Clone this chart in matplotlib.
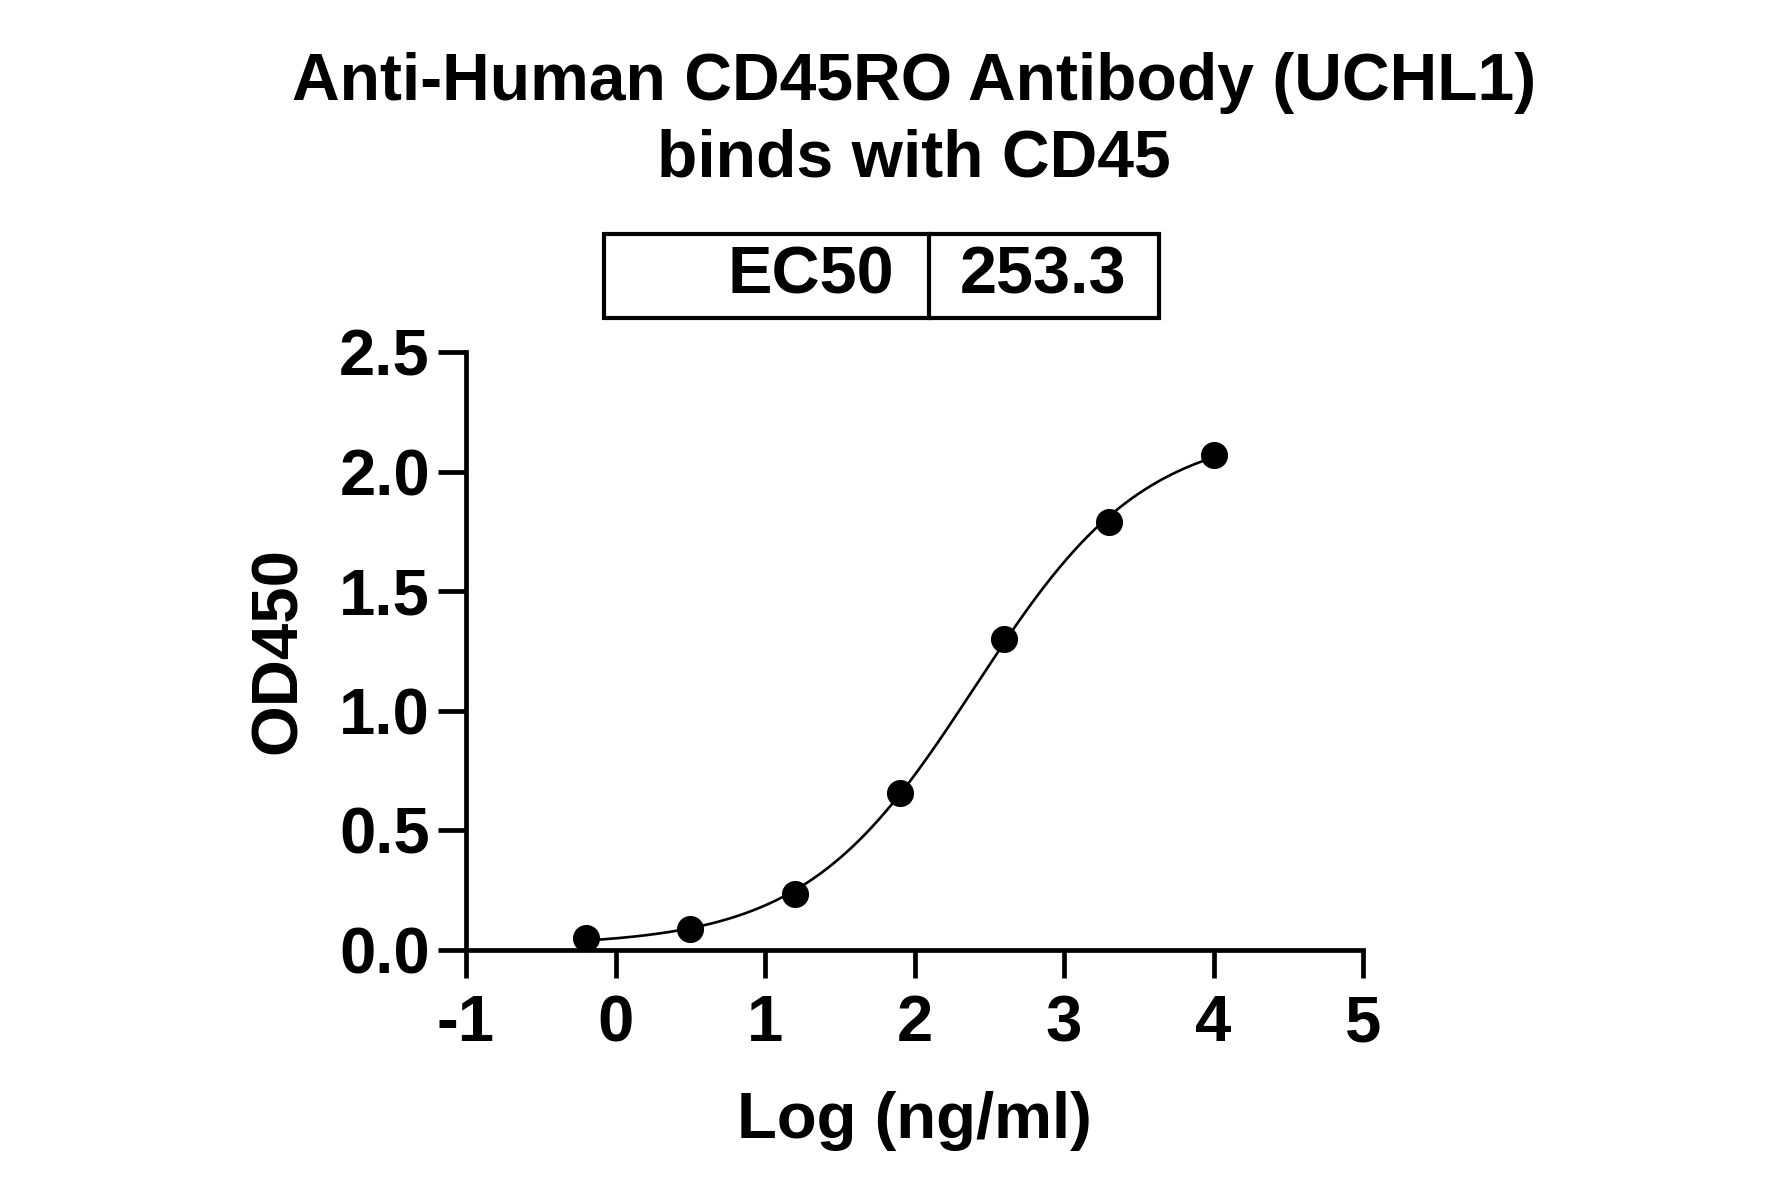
import numpy as np
import matplotlib
matplotlib.use("Agg")
import matplotlib.pyplot as plt
from matplotlib.patches import Rectangle
from matplotlib.lines import Line2D

plt.rcParams['font.family'] = ['Liberation Sans', 'DejaVu Sans']
plt.rcParams['font.weight'] = 'bold'

# Data
log_conc = [-0.2, 0.5, 1.2, 1.9, 2.6, 3.3, 4.0]
od450 = [0.052, 0.086, 0.233, 0.656, 1.30, 1.79, 2.07]
ec50 = 253.3
x_ticks = [-1, 0, 1, 2, 3, 4, 5]
y_ticks = [0.0, 0.5, 1.0, 1.5, 2.0, 2.5]
title = "Anti-Human CD45RO Antibody (UCHL1)\nbinds with CD45"

# 4PL fit with logEC50 fixed by the reported EC50
x = np.array(log_conc)
y = np.array(od450)
logec = np.log10(ec50)
best = None
for h in np.linspace(0.3, 2.0, 1701):
    s = 1.0 / (1.0 + 10 ** (h * (logec - x)))
    A = np.vstack([np.ones_like(s), s]).T
    coef, res, *_ = np.linalg.lstsq(A, y, rcond=None)
    err = np.sum((A @ coef - y) ** 2)
    if best is None or err < best[0]:
        best = (err, h, coef)
_, hill, (bottom, span) = best
xc = np.linspace(x.min(), x.max(), 400)
yc = bottom + span / (1.0 + 10 ** (hill * (logec - xc)))

W, H = 1781, 1197
fig = plt.figure(figsize=(W / 100, H / 100), dpi=100)
ax = fig.add_axes([466 / W, 1 - 950 / H, (1363 - 466) / W, (950 - 352) / H])

ax.plot(xc, yc, color='black', lw=1.9, zorder=2)
ax.plot(x, y, 'o', color='black', ms=18.5, zorder=3, clip_on=False)

ax.set_xlim(-1, 5)
ax.set_ylim(0, 2.5)
ax.set_xticks(x_ticks)
ax.set_xticklabels([str(v) for v in x_ticks])
ax.set_yticks(y_ticks)
ax.set_yticklabels([f"{v:.1f}" for v in y_ticks])
for s in ['top', 'right']:
    ax.spines[s].set_visible(False)
for s in ['left', 'bottom']:
    ax.spines[s].set_linewidth(3.4)
ax.tick_params(axis='both', direction='out', width=3.4, length=20, labelsize=47, pad=6)
ax.tick_params(axis='x', pad=12, labelsize=47)
for lab in ax.get_xticklabels() + ax.get_yticklabels():
    lab.set_fontweight('bold')

ax.set_xlabel("Log (ng/ml)", fontsize=47, fontweight='bold', labelpad=26)
ax.set_ylabel("OD450", fontsize=47, fontweight='bold', labelpad=22)

fig.text(914 / W, 1 - 121 / H, title, ha='center', va='center', fontsize=47.5,
         fontweight='bold', linespacing=1.3)

# EC50 table
x0, x1, xm = 604 / W, 1159 / W, 929 / W
y0, y1 = 1 - 318 / H, 1 - 234 / H
fig.add_artist(Rectangle((x0, y0), x1 - x0, y1 - y0, transform=fig.transFigure,
                         fill=False, lw=3.0, edgecolor='black'))
fig.add_artist(Line2D([xm, xm], [y0, y1], transform=fig.transFigure, lw=3.0, color='black'))
fig.text(894 / W, (y0 + y1) / 2, "EC50", ha='right', va='center', fontsize=48, fontweight='bold')
fig.text(960 / W, (y0 + y1) / 2, f"{ec50}", ha='left', va='center', fontsize=48, fontweight='bold')

fig.savefig("out.png", dpi=100, facecolor='white')
